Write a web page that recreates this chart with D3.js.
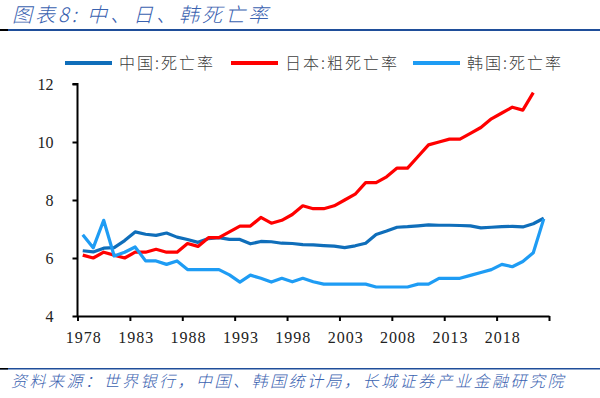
<!DOCTYPE html>
<html>
<head>
<meta charset="utf-8">
<script src="https://cdn.jsdelivr.net/npm/d3@7"></script>
<style>
  body { margin: 0; background: #fff; }
  svg { display: block; }
</style>
</head>
<body>
<div id="chart"></div>
<script>
// years on the category axis
var years = d3.range(1978, 2023);
var tickYears = [1978, 1983, 1988, 1993, 1998, 2003, 2008, 2013, 2018];
var yTicks = [4, 6, 8, 10, 12];

// 中国:死亡率 1978-2022
var china = [6.25, 6.21, 6.34, 6.36, 6.60, 6.90, 6.82, 6.78, 6.86, 6.72,
  6.64, 6.54, 6.67, 6.70, 6.64, 6.64, 6.49, 6.57, 6.56, 6.51,
  6.50, 6.46, 6.45, 6.43, 6.41, 6.36, 6.42, 6.51, 6.81, 6.93,
  7.06, 7.08, 7.11, 7.14, 7.13, 7.13, 7.12, 7.11, 7.04, 7.06,
  7.08, 7.09, 7.07, 7.18, 7.37];

// 日本:粗死亡率 1978-2021
var japan = [6.1, 6.0, 6.2, 6.1, 6.0, 6.2, 6.2, 6.3, 6.2, 6.2,
  6.5, 6.4, 6.7, 6.7, 6.9, 7.1, 7.1, 7.4, 7.2, 7.3,
  7.5, 7.8, 7.7, 7.7, 7.8, 8.0, 8.2, 8.6, 8.6, 8.8,
  9.1, 9.1, 9.5, 9.9, 10.0, 10.1, 10.1, 10.3, 10.5, 10.8,
  11.0, 11.2, 11.1, 11.7];

// 韩国:死亡率 1978-2022
var korea = [6.8, 6.35, 7.3, 6.07, 6.2, 6.38, 5.9, 5.9, 5.78, 5.9,
  5.6, 5.6, 5.6, 5.6, 5.42, 5.17, 5.41, 5.3, 5.17, 5.3,
  5.18, 5.3, 5.18, 5.1, 5.1, 5.1, 5.1, 5.1, 5.0, 5.0,
  5.0, 5.0, 5.1, 5.1, 5.3, 5.3, 5.3, 5.4, 5.5, 5.6,
  5.78, 5.7, 5.88, 6.18, 7.35];

var seriesNames = ["中国:死亡率", "日本:粗死亡率", "韩国:死亡率"];
var seriesData = [china, japan, korea];
var colors = ["#0F6EBA", "#FF0000", "#1E9CF4"];

var svgWidth = 600, svgHeight = 398;
var margin = { top: 84, right: 51, bottom: 82, left: 77.5 };
var width = svgWidth - margin.left - margin.right;
var height = svgHeight - margin.top - margin.bottom;

var svg = d3.select("#chart").append("svg")
  .attr("width", svgWidth)
  .attr("height", svgHeight);

// title and rule
svg.append("text")
  .attr("x", 12)
  .attr("y", 22)
  .attr("fill", "#3A62B0")
  .attr("font-family", "'Noto Sans CJK SC', sans-serif")
  .attr("font-style", "italic")
  .attr("font-weight", 300)
  .attr("font-size", "20px")
  .attr("letter-spacing", "3px")
  .text("图表8:  中、日、韩死亡率");

svg.append("rect").attr("x", 0).attr("y", 29).attr("width", 600).attr("height", 2).attr("fill", "#1F4E9A");
svg.append("rect").attr("x", 0).attr("y", 29).attr("width", 8).attr("height", 2).attr("fill", "#000");

// source and rule
svg.append("rect").attr("x", 0).attr("y", 368).attr("width", 600).attr("height", 1.5).attr("fill", "#1F4E9A");
svg.append("rect").attr("x", 0).attr("y", 368).attr("width", 8).attr("height", 1.5).attr("fill", "#000");
svg.append("text")
  .attr("x", 11)
  .attr("y", 387)
  .attr("fill", "#3A62B0")
  .attr("font-family", "'Noto Sans CJK SC', sans-serif")
  .attr("font-style", "italic")
  .attr("font-weight", 300)
  .attr("font-size", "16px")
  .attr("letter-spacing", "2.5px")
  .text("资料来源：世界银行，中国、韩国统计局，长城证券产业金融研究院");

var chartGroup = svg.append("g")
  .attr("transform", `translate(${margin.left}, ${margin.top})`);

// scales
var xBand = d3.scaleBand().domain(years).range([0, width]);
var xEdge = d3.scaleLinear().domain([1978, 2023]).range([0, width]);
var yLinearScale = d3.scaleLinear().domain([4, 12]).range([height, 0]);

// lines
var line = d3.line()
  .x((d, i) => xBand(years[i]) + xBand.bandwidth() / 2)
  .y(d => yLinearScale(d));

seriesData.forEach(function(s, k) {
  chartGroup.append("path")
    .datum(s)
    .attr("fill", "none")
    .attr("stroke", colors[k])
    .attr("stroke-width", 3.2)
    .attr("stroke-linejoin", "round")
    .attr("d", line);
});

// y axis
var leftAxis = d3.axisLeft(yLinearScale).tickValues(yTicks).tickSize(5).tickPadding(19);
var yAxis = chartGroup.append("g").call(leftAxis);
yAxis.select(".domain").attr("d", `M0,${height}V0H-5`);

// x axis: ticks on category edges, labels on category centres
var bottomAxis = d3.axisBottom(xEdge)
  .tickValues(tickYears.concat([2023]))
  .tickSize(5)
  .tickSizeOuter(0)
  .tickFormat("");
var xAxis = chartGroup.append("g")
  .attr("transform", `translate(0, ${height})`)
  .call(bottomAxis);

chartGroup.append("g").selectAll("text")
  .data(tickYears)
  .enter()
  .append("text")
  .attr("x", d => xBand(d) + xBand.bandwidth() / 2 + 1)
  .attr("y", height + 27)
  .attr("text-anchor", "middle")
  .attr("fill", "#222")
  .attr("font-family", "'Liberation Serif', serif")
  .attr("font-size", "16px")
  .attr("letter-spacing", "1px")
  .text(d => d);

[xAxis, yAxis].forEach(function(a) {
  a.selectAll("path, line").attr("stroke", "#000").attr("stroke-width", 2);
  a.selectAll("text")
    .attr("fill", "#222")
    .attr("font-family", "'Liberation Serif', serif")
    .attr("font-size", "16px");
});

// legend
var legendX = [65, 231, 413];
var legend = svg.append("g");
seriesNames.forEach(function(name, k) {
  legend.append("line")
    .attr("x1", legendX[k]).attr("x2", legendX[k] + 47)
    .attr("y1", 63).attr("y2", 63)
    .attr("stroke", colors[k])
    .attr("stroke-width", 4);
  legend.append("text")
    .attr("x", legendX[k] + 54)
    .attr("y", 69)
    .attr("fill", "#404040")
    .attr("font-family", "'Noto Sans CJK SC', sans-serif")
    .attr("font-weight", 300)
    .attr("font-size", "16px")
    .attr("letter-spacing", "2px")
    .text(name);
});
</script>
</body>
</html>
